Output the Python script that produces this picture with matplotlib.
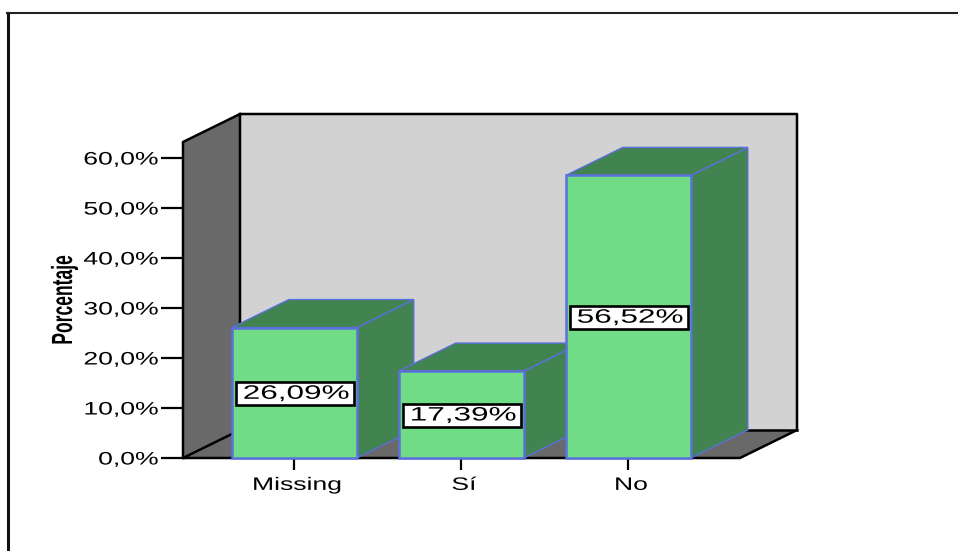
import matplotlib
matplotlib.use("Agg")
import matplotlib.pyplot as plt
import matplotlib.patheffects as pe
from matplotlib.patches import Polygon, Rectangle
from matplotlib.lines import Line2D
from matplotlib.transforms import Affine2D
import numpy as np

categories = ["Missing", "Sí", "No"]
values = [26.09, 17.39, 56.52]
value_labels = ["26,09%", "17,39%", "56,52%"]
y_ticks = [0, 10, 20, 30, 40, 50, 60]
y_tick_labels = ["0,0%", "10,0%", "20,0%", "30,0%", "40,0%", "50,0%", "60,0%"]
y_label = "Porcentaje"

W, H = 958, 551
FRONT = "#70DC86"; SIDE = "#41844F"; EDGE = "#5B6FDD"
BACK = "#D2D2D2"; WALL = "#696969"
plt.rcParams["font.family"] = ["Liberation Sans", "DejaVu Sans"]


class Stretch(pe.AbstractPathEffect):
    """Widen or narrow a real text along one device axis when it is drawn."""
    def __init__(self, sx=1.0, sy=1.0, anchor="center", dx=0.0):
        super().__init__()
        self.sx, self.sy, self.anchor, self.dx = sx, sy, anchor, dx

    def draw_path(self, renderer, gc, tpath, affine, rgbFace=None):
        v = affine.transform(tpath.vertices)
        ax_ = v[:, 0].max() if self.anchor == "right" else (v[:, 0].min() + v[:, 0].max()) / 2
        ay_ = (v[:, 1].min() + v[:, 1].max()) / 2
        t = affine + Affine2D().translate(-ax_, -ay_).scale(self.sx, self.sy).translate(ax_ + self.dx, ay_)
        renderer.draw_path(gc, tpath, t, rgbFace)


fig = plt.figure(figsize=(W / 100, H / 100), dpi=100, facecolor="white")
ax = fig.add_axes([183 / W, (H - 458) / H, 557 / W, 300 / H])
ax.patch.set_visible(False)
for s in ax.spines.values():
    s.set_visible(False)
x0, x1 = (183 - 294.3) / 167, (740 - 294.3) / 167
ax.set_xlim(x0, x1)
ax.set_ylim(0, 60)
DX, DY = 57 / 167, 28 / 5
BAR_W = 125 / 167
TOP = 63.2

# walls and floor
ax.add_patch(Polygon([(x0 + DX, DY), (x1 + DX, DY), (x1 + DX, TOP + DY), (x0 + DX, TOP + DY)],
                     fc=BACK, ec="none", clip_on=False, zorder=1))
ax.add_patch(Polygon([(x0, 0), (x0 + DX, DY), (x0 + DX, TOP + DY), (x0, TOP)],
                     fc=WALL, ec="none", clip_on=False, zorder=1))
ax.add_patch(Polygon([(x0, 0), (x1, 0), (x1 + DX, DY), (x0 + DX, DY)],
                     fc=WALL, ec="none", clip_on=False, zorder=1))
line_kw = dict(color="black", lw=1.8, clip_on=False, zorder=2, solid_capstyle="projecting")
ax.plot([x0, x0, x0 + DX, x1 + DX, x1 + DX, x1, x0, x0 + DX, x0 + DX],
        [0, TOP, TOP + DY, TOP + DY, DY, 0, 0, DY, TOP + DY], **line_kw)
ax.plot([x0 + DX, x1 + DX], [DY, DY], **line_kw)

# bars
for i, (v, lab) in enumerate(zip(values, value_labels)):
    l, r = i - BAR_W / 2, i + BAR_W / 2
    z = 3 + i
    ax.add_patch(Polygon([(r, 0), (r + DX, DY), (r + DX, v + DY), (r, v)],
                         fc=SIDE, ec=EDGE, lw=1, clip_on=False, zorder=z))
    ax.add_patch(Polygon([(l, v), (r, v), (r + DX, v + DY), (l + DX, v + DY)],
                         fc=SIDE, ec=EDGE, lw=1, clip_on=False, zorder=z))
    ax.add_patch(Rectangle((l, 0), BAR_W, v, fc=FRONT, ec=EDGE, lw=1.8, clip_on=False, zorder=z + 0.1))
    ax.add_patch(Rectangle((i - 0.35, v / 2 - 2.5), 0.71, 4.7, fc="white", ec="black", lw=1.9,
                           clip_on=False, zorder=z + 0.2))
    ax.text(i + 0.01, v / 2 - 0.3, lab, ha="center", va="center", fontsize=14, color="black",
            clip_on=False, zorder=z + 0.3, path_effects=[Stretch(sx=1.62)])

ax.set_xticks(range(len(categories)), categories)
ax.set_yticks(y_ticks, y_tick_labels)
ax.tick_params(axis="y", length=15.8, width=1.6, pad=2, labelsize=13)
ax.tick_params(axis="x", length=8.6, width=1.6, pad=5, labelsize=13)
for t in ax.get_yticklabels():
    t.set_path_effects([Stretch(sx=1.47, anchor="right")])
for t in ax.get_xticklabels():
    t.set_path_effects([Stretch(sx=1.47, dx=2.5)])

fig.text(64 / W, (H - 300) / H, y_label, rotation=90, ha="center", va="center",
         fontsize=21, fontweight="bold", path_effects=[Stretch(sy=0.6)])

# outer frame (top and left edges only)
fig.add_artist(Line2D([7.8 / W, 7.8 / W], [0, (H - 12.5) / H], color="#111111",
                      lw=2.2, transform=fig.transFigure))
fig.add_artist(Line2D([6.5 / W, 1], [(H - 13) / H, (H - 13) / H], color="#222222",
                      lw=1.5, transform=fig.transFigure))
fig.savefig("out.png", dpi=100)
